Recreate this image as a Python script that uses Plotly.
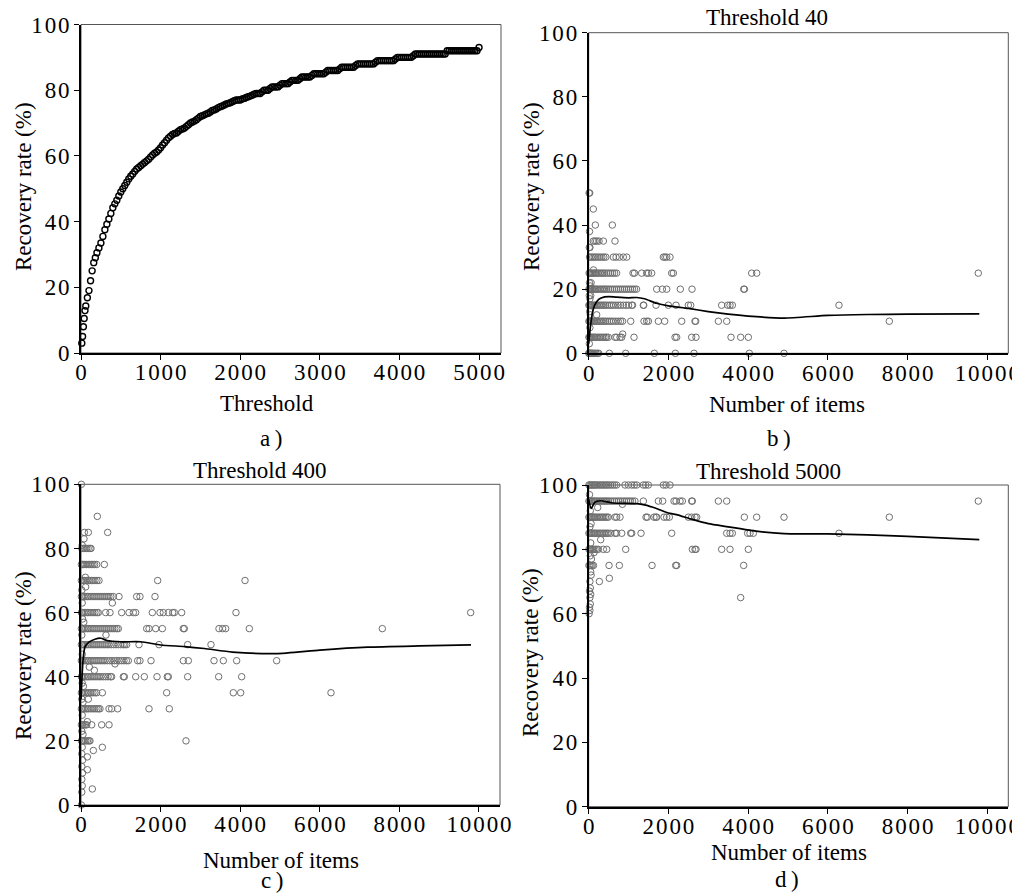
import plotly.graph_objects as go

W, H = 1012, 893

# --- a) recovery rate vs threshold ---
threshold = [10, 20, 30, 40, 50, 60, 80, 100, 120, 140, 160, 180,
             200, 225, 250, 275, 300, 325, 350, 375,
             400, 425, 450, 475, 500, 525, 550, 575,
             600, 625, 650, 675, 700, 725, 750, 775,
             800, 825, 850, 875, 900, 925, 950, 975,
             1000, 1025, 1050, 1075, 1100, 1125, 1150, 1175,
             1200, 1225, 1250, 1275, 1300, 1325, 1350, 1375,
             1400, 1425, 1450, 1475, 1500, 1525, 1550, 1575,
             1600, 1625, 1650, 1675, 1700, 1725, 1750, 1775,
             1800, 1825, 1850, 1875, 1900, 1925, 1950, 1975,
             2000, 2025, 2050, 2075, 2100, 2125, 2150, 2175,
             2200, 2225, 2250, 2275, 2300, 2325, 2350, 2375,
             2400, 2425, 2450, 2475, 2500, 2525, 2550, 2575,
             2600, 2625, 2650, 2675, 2700, 2725, 2750, 2775,
             2800, 2825, 2850, 2875, 2900, 2925, 2950, 2975,
             3000, 3025, 3050, 3075, 3100, 3125, 3150, 3175,
             3200, 3225, 3250, 3275, 3300, 3325, 3350, 3375,
             3400, 3425, 3450, 3475, 3500, 3525, 3550, 3575,
             3600, 3625, 3650, 3675, 3700, 3725, 3750, 3775,
             3800, 3825, 3850, 3875, 3900, 3925, 3950, 3975,
             4000, 4025, 4050, 4075, 4100, 4125, 4150, 4175,
             4200, 4225, 4250, 4275, 4300, 4325, 4350, 4375,
             4400, 4425, 4450, 4475, 4500, 4525, 4550, 4575,
             4600, 4625, 4650, 4675, 4700, 4725, 4750, 4775,
             4800, 4825, 4850, 4875, 4900, 4925, 4950, 4975,
             5000]
recovery = [3, 5, 8, 10.5, 12.9, 14.3, 16.8, 19, 22, 25, 27.5, 29,
            30.5, 32, 33.5, 35.5, 37.5, 39.2, 40.8, 42.5,
            44.2, 45.4, 46.5, 47.8, 49, 50, 51, 52,
            53, 53.8, 54.5, 55.3, 56, 56.5, 57, 57.5,
            58, 58.5, 59, 59.7, 60.3, 60.8, 61.2, 61.8,
            62.5, 63.3, 64, 64.8, 65.5, 66, 66.5, 66.8,
            67, 67.5, 68, 68.2, 68.5, 69, 69.5, 70,
            70.3, 70.6, 71, 71.5, 72, 72.2, 72.5, 72.8,
            73, 73.4, 73.8, 74, 74.3, 74.7, 75, 75.2,
            75.5, 75.8, 76, 76.2, 76.5, 76.8, 77, 77,
            77, 77.3, 77.5, 77.8, 78, 78.2, 78.5, 78.8,
            79, 79, 79, 79.5, 80, 80, 80, 80.5,
            81, 81, 81, 81, 81.5, 82, 82, 82,
            82, 82.5, 83, 83, 83, 83, 83.5, 84,
            84, 84, 84, 84, 84.5, 85, 85, 85,
            85, 85, 85, 85.5, 86, 86, 86, 86,
            86, 86, 86.5, 87, 87, 87, 87, 87,
            87, 87, 87.5, 88, 88, 88, 88, 88,
            88, 88, 88, 88, 88.5, 89, 89, 89,
            89, 89, 89, 89, 89, 89, 89.5, 90,
            90, 90, 90, 90, 90, 90, 90, 90.5,
            91, 91, 91, 91, 91, 91, 91, 91,
            91, 91, 91, 91, 91, 91, 91, 91,
            92, 92, 92, 92, 92, 92, 92, 92,
            92, 92, 92, 92, 92, 92, 92, 92,
            93]

# --- b) threshold 40 ---
b_rates = [50, 45, 40, 38, 35, 33, 30, 26, 25, 22, 21, 20, 18, 17, 15, 13, 12, 10, 8, 6, 5, 3, 0]
b_items = [
    [10, 25],
    [116],
    [166, 593],
    [20],
    [116, 158, 200, 259, 368, 660],
    [15, 30],
    [20, 60, 100, 140, 180, 230, 280, 330, 380, 430, 619, 686, 769, 869, 953, 1873, 1914, 1957, 2040],
    [120],
    [10, 30, 50, 80, 110, 140, 170, 200, 240, 280, 320, 360, 400, 450, 500, 550, 600, 650, 700,
     1112, 1150, 1329, 1455, 1500, 1580, 2082, 2124, 4089, 4214, 9774],
    [20, 60],
    [40],
    [5, 20, 40, 60, 90, 120, 150, 180, 210, 250, 290, 330, 370, 410, 450, 500, 550, 600, 650, 700,
     750, 800, 850, 900, 950, 1000, 1050, 1100, 1150, 1200, 1706, 1848, 1957, 2299, 2592, 3890, 3907],
    [15, 50],
    [30],
    [5, 20, 40, 60, 90, 120, 150, 180, 220, 260, 300, 340, 380, 420, 470, 520, 570, 620, 680, 740,
     800, 870, 940, 1000, 1080, 1100, 1371, 1380, 1689, 1998, 2190, 2500, 2559, 3336, 3487, 3545,
     3604, 6279],
    [25],
    [40, 200],
    [5, 20, 40, 60, 90, 120, 150, 180, 220, 260, 300, 340, 380, 420, 470, 520, 570, 620, 680, 740,
     800, 850, 1054, 1388, 1455, 1497, 1748, 1906, 2333, 2667, 2684, 3253, 3462, 7542],
    [30],
    [853],
    [5, 20, 40, 60, 90, 120, 150, 180, 220, 260, 300, 340, 380, 420, 450, 493, 660, 702, 786, 827,
     1137, 2166, 2207, 2584, 2692, 3570, 3813, 4005],
    [15],
    [2, 10, 20, 35, 50, 70, 90, 120, 150, 180, 220, 250, 518, 928, 1647, 2174, 2642, 4030, 4900],
]
b_line_items = [0, 50, 100, 150, 250, 400, 500, 700, 1000, 1200, 1400, 1700, 2000, 2500, 3000,
                3500, 4000, 4900, 6000, 7000, 8000, 9800]
b_line_rate = [3, 9, 13, 15, 16.8, 17.6, 17.7, 17.5, 17.3, 17.4, 17.0, 15.6, 14.8, 14.0, 13.0,
               12.2, 11.6, 11.0, 11.8, 12.1, 12.2, 12.3]

# --- c) threshold 400 ---
c_rates = [100, 90, 85, 83, 81, 80, 75, 71, 70, 68, 67, 65, 63, 60, 58, 57, 55, 53, 50, 47, 45,
           44, 43, 42, 40, 38, 37, 35, 33, 32, 30, 28, 26, 25, 23, 22, 20, 18, 17, 16, 15, 14,
           12, 11, 10, 8, 6, 5, 4, 0]
c_items = [
    [10],
    [410],
    [84, 184, 670],
    [75],
    [30],
    [20, 60, 100, 140, 180, 226, 251],
    [10, 40, 70, 100, 140, 180, 220, 260, 300, 340, 394, 586],
    [110],
    [10, 50, 90, 130, 170, 210, 260, 300, 350, 400, 452, 1926, 4121],
    [117],
    [20],
    [10, 40, 80, 120, 160, 200, 250, 300, 350, 400, 450, 500, 550, 600, 650, 700, 750, 812, 955,
     1399, 1482, 1859],
    [30, 787],
    [10, 40, 80, 120, 160, 200, 250, 300, 350, 400, 435, 620, 729, 1022, 1206, 1315, 1374, 1792,
     1985, 2069, 2194, 2303, 2345, 2529, 3894, 9791],
    [40],
    [70],
    [10, 40, 80, 120, 160, 200, 250, 300, 350, 400, 450, 500, 550, 600, 650, 700, 750, 800, 850,
     900, 938, 1650, 1709, 1876, 2044, 2571, 2596, 3467, 3559, 3635, 4229, 7571],
    [20, 628],
    [10, 40, 80, 120, 160, 200, 250, 300, 350, 400, 450, 500, 550, 600, 650, 700, 760, 820, 880,
     940, 1000, 1060, 1100, 1147, 1457, 1960, 2680, 3266],
    [30],
    [10, 40, 80, 120, 160, 200, 250, 300, 350, 400, 450, 500, 550, 600, 660, 720, 780, 840, 900,
     960, 1020, 1080, 1140, 1189, 1424, 1482, 1759, 2571, 2697, 3342, 3576, 3911, 4916],
    [854],
    [209],
    [335],
    [10, 40, 80, 120, 160, 200, 250, 300, 350, 400, 450, 500, 560, 620, 680, 740, 770, 1064, 1089,
     1374, 1591, 1910, 2169, 2194, 2680, 3459, 4037],
    [30],
    [60],
    [10, 40, 80, 120, 160, 200, 250, 300, 350, 394, 536, 2152, 3827, 4012, 6281],
    [20, 184],
    [50],
    [10, 40, 80, 120, 160, 200, 250, 300, 350, 400, 440, 477, 704, 770, 921, 1709, 2219],
    [30],
    [159],
    [10, 40, 80, 110, 142, 268, 519, 704],
    [20],
    [50],
    [10, 40, 80, 120, 160, 200, 226, 2638],
    [30, 536],
    [310],
    [20],
    [159],
    [40],
    [20],
    [159],
    [40],
    [20],
    [30],
    [285],
    [20],
    [10],
]
c_line_items = [0, 50, 100, 200, 350, 500, 650, 1000, 1500, 2000, 2600, 3100, 3800, 4900, 6000,
                7200, 8500, 9800]
c_line_rate = [33, 45, 49.3, 50.8, 51.7, 52, 51.3, 50.9, 50.9, 49.9, 49.4, 48.8, 47.7, 47.2, 48.3,
               49.2, 49.6, 49.9]

# --- d) threshold 5000 ---
d_rates = [100, 97, 95, 94, 93, 92, 90, 88, 87, 85, 83, 82, 80, 79, 78, 77, 75, 73, 72, 71, 70,
           68, 67, 66, 65, 63, 62, 61, 60]
d_items = [
    [5, 30, 60, 90, 120, 150, 180, 220, 260, 300, 340, 380, 420, 460, 500, 550, 600, 650, 700,
     911, 995, 1079, 1145, 1204, 1371, 1430, 1497, 1873, 1940, 2040],
    [20],
    [5, 30, 60, 90, 120, 150, 180, 220, 260, 300, 340, 380, 420, 460, 500, 550, 600, 650, 700,
     750, 800, 850, 900, 950, 1000, 1050, 1100, 1160, 1371, 1747, 1856, 2140, 2191, 2291, 2349,
     2584, 2600, 3253, 3462, 9774],
    [845],
    [226],
    [40],
    [5, 30, 60, 90, 120, 150, 180, 220, 260, 300, 340, 380, 420, 460, 493, 660, 702, 786, 1438,
     1472, 1639, 1689, 1706, 1890, 1957, 2023, 2500, 2584, 2667, 2709, 3905, 4214, 4900, 7542],
    [60],
    [30],
    [5, 30, 60, 90, 120, 150, 180, 220, 260, 300, 340, 380, 420, 460, 493, 552, 660, 702, 828,
     1054, 1079, 1313, 2082, 3462, 3545, 3604, 3988, 4047, 4130, 6279],
    [301],
    [50],
    [5, 30, 60, 90, 120, 160, 200, 242, 368, 452, 928, 2600, 2667, 2692, 3336, 3545, 4005],
    [134],
    [40],
    [70],
    [5, 30, 60, 90, 120, 510, 769, 1589, 2182, 2207, 3888],
    [50],
    [60],
    [518],
    [30, 268],
    [40],
    [20],
    [50],
    [30, 3813],
    [40],
    [20],
    [30],
    [10],
]
d_line_items = [0, 60, 150, 300, 600, 1200, 1400, 1700, 2000, 2200, 2600, 3000, 3500, 4100, 4900,
                6000, 7000, 8000, 9800]
d_line_rate = [95.5, 92.7, 94.6, 95.1, 94.4, 94.2, 93.8, 92.7, 91.3, 90.8, 89.3, 88.0, 87.0, 85.8,
               84.9, 84.8, 84.5, 84.0, 83.0]

y_ticks = [0, 20, 40, 60, 80, 100]
a_ticks = [0, 1000, 2000, 3000, 4000, 5000]
n_ticks = [0, 2000, 4000, 6000, 8000, 10000]


def flatten(rates, items):
    xs, ys = [], []
    for r, its in zip(rates, items):
        xs += its
        ys += [r] * len(its)
    return xs, ys


def spaced(v):
    # the source typesets tick numbers with a little tracking
    return "\u200a".join(str(v))


def fx(p):
    return p / W


def fy(p):
    return 1 - p / H


FONT = "Times New Roman"
GRAY = "#6f6f6f"

fig = go.Figure()

fig.add_trace(go.Scatter(
    x=threshold, y=recovery, mode="markers", xaxis="x", yaxis="y", cliponaxis=False,
    marker=dict(symbol="circle-open", size=6, color="black", line=dict(width=1.4)),
))

panels = [
    ("x2", "y2", b_rates, b_items, b_line_items, b_line_rate),
    ("x3", "y3", c_rates, c_items, c_line_items, c_line_rate),
    ("x4", "y4", d_rates, d_items, d_line_items, d_line_rate),
]
for xa, ya, rates, items, li, lr in panels:
    xs, ys = flatten(rates, items)
    fig.add_trace(go.Scatter(
        x=xs, y=ys, mode="markers", xaxis=xa, yaxis=ya, cliponaxis=False,
        marker=dict(symbol="circle-open", size=6.5, color=GRAY, line=dict(width=1)),
    ))
    fig.add_trace(go.Scatter(
        x=li, y=lr, mode="lines", xaxis=xa, yaxis=ya,
        line=dict(color="black", width=1.7, shape="spline", smoothing=0.6),
    ))

# plot areas in pixels: (left, right, top, bottom)
boxes = {
    "a": (81, 501, 24.5, 353),
    "b": (588.7, 1008.3, 32.7, 353.3),
    "c": (81, 500, 484.3, 805),
    "d": (588.7, 1008.3, 485, 806.7),
}
xmax = {"a": 5276, "b": 10527, "c": 10528, "d": 10527}
xticks = {"a": a_ticks, "b": n_ticks, "c": n_ticks, "d": n_ticks}

tickfont = dict(family=FONT, size=23, color="black")
layout = {}
shapes = []
for i, key in enumerate(["a", "b", "c", "d"]):
    l, r, t, b = boxes[key]
    sfx = "" if i == 0 else str(i + 1)
    common = dict(showline=True, linecolor="black", linewidth=1.6, ticks="outside", ticklen=5,
                  tickwidth=1.2, tickcolor="black", showgrid=False, zeroline=False,
                  tickfont=tickfont, automargin=False, tickmode="array",
                  ticklabeloverflow="allow")
    layout["xaxis" + sfx] = dict(domain=[fx(l), fx(r)], range=[0, xmax[key]],
                                 tickvals=xticks[key], ticktext=[spaced(v) for v in xticks[key]],
                                 ticklabelstandoff=-7, anchor="y" + sfx, **common)
    layout["yaxis" + sfx] = dict(domain=[fy(b), fy(t)], range=[0, 100],
                                 tickvals=y_ticks, ticktext=[spaced(v) for v in y_ticks],
                                 anchor="x" + sfx, **common)
    shapes.append(dict(type="rect", xref="paper", yref="paper", x0=fx(l), x1=fx(r),
                       y0=fy(b), y1=fy(t), line=dict(color="#555555", width=1), layer="below"))

texts = [
    ("Recovery rate (%)", 23, 187, -90),
    ("Recovery rate (%)", 531, 187, -90),
    ("Recovery rate (%)", 23, 656, -90),
    ("Recovery rate (%)", 530, 653, -90),
    ("Threshold", 267, 403, 0),
    ("Number of items", 787, 404, 0),
    ("Number of items", 281, 860, 0),
    ("Number of items", 789, 852, 0),
    ("a\u2009)", 271, 438, 0),
    ("b\u2009)", 779, 438, 0),
    ("c\u2009)", 272, 880, 0),
    ("d\u2009)", 787, 879, 0),
    ("Threshold 40", 767, 17, 0),
    ("Threshold 400", 260, 470, 0),
    ("Threshold 5000", 768, 472, 0),
]
annotations = [
    dict(text=s, x=fx(x), y=fy(y), xref="paper", yref="paper", xanchor="center",
         yanchor="middle", showarrow=False, textangle=a,
         font=dict(family=FONT, size=23, color="black"))
    for s, x, y, a in texts
]

fig.update_layout(
    width=W, height=H, margin=dict(l=0, r=0, t=0, b=0),
    paper_bgcolor="white", plot_bgcolor="white", showlegend=False,
    shapes=shapes, annotations=annotations, **layout,
)

fig.write_html("out.html", config={"displayModeBar": False},
               post_script="document.body.style.margin = '0';")
